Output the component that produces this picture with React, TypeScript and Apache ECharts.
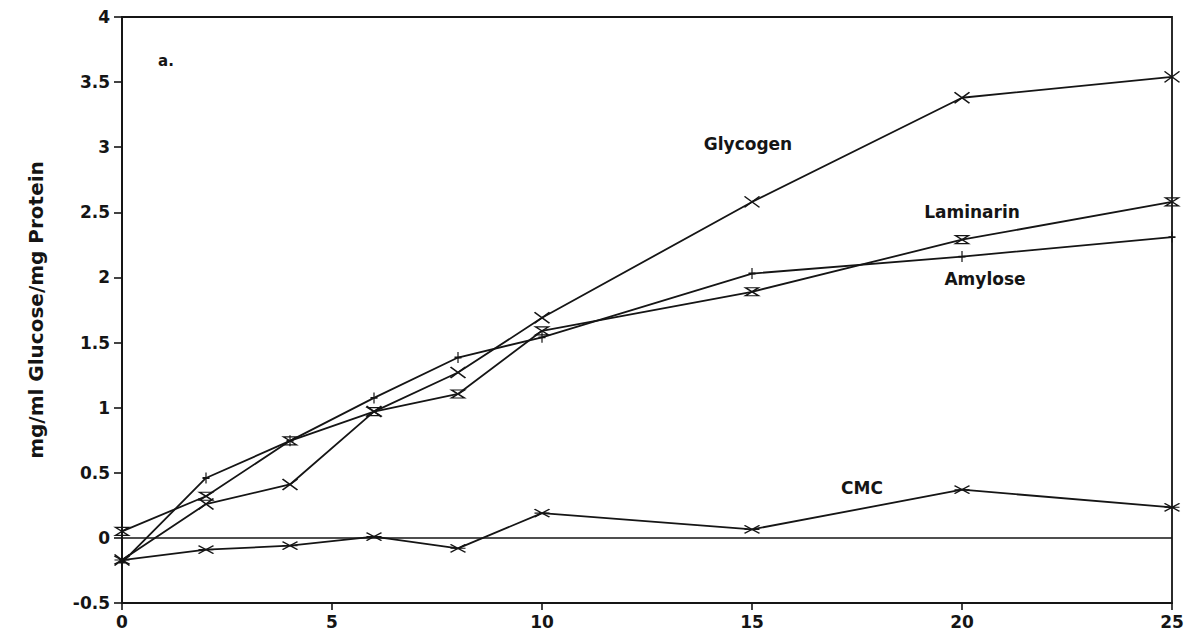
import React, { useEffect, useRef } from "react";
import * as echarts from "echarts";

const timePoints = [0, 2, 4, 6, 8, 10, 15, 20, 25];
const glycogen = [-0.17, 0.26, 0.41, 0.97, 1.27, 1.69, 2.58, 3.38, 3.54];
const laminarin = [0.05, 0.32, 0.745, 0.97, 1.105, 1.59, 1.89, 2.29, 2.58];
const amylose = [-0.19, 0.46, 0.745, 1.075, 1.385, 1.54, 2.03, 2.16, 2.31];
const cmc = [-0.17, -0.09, -0.06, 0.01, -0.08, 0.19, 0.065, 0.37, 0.235];

const seriesNames = ["Glycogen", "Laminarin", "Amylose", "CMC"];
const yAxisTitle = "mg/ml Glucose/mg Protein";
const panelLabel = "a.";

const INK = "#151515";
const FONT = "'DejaVu Sans', 'Liberation Sans', Arial, sans-serif";

const symbols = {
  Glycogen: { path: "path://M0,0L16,11M16,0L0,11", size: [15, 11] },
  Laminarin: { path: "path://M0,0L12,0L0,8L12,8Z", size: [13, 8] },
  Amylose: { path: "path://M5,0L5,12M1,6L9,6", size: [7, 11] },
  CMC: { path: "path://M0,0L16,9M16,0L0,9M0,4.5L16,4.5", size: [15, 8] },
};

function pairs(ys: number[]) {
  return timePoints.map((x, i) => [x, ys[i]]);
}

export default function App() {
  const ref = useRef<HTMLDivElement>(null);

  useEffect(() => {
    if (!ref.current) return;
    const chart = echarts.init(ref.current, undefined, { renderer: "svg" });
    const values = [glycogen, laminarin, amylose, cmc];

    const series: any[] = seriesNames.map((name, i) => {
      const sym = (symbols as any)[name];
      const s: any = {
        name,
        type: "line",
        data: pairs(values[i]),
        symbol: sym.path,
        symbolSize: sym.size,
        showAllSymbol: true,
        clip: false,
        lineStyle: { color: INK, width: 1.8 },
        itemStyle: { color: "rgba(0,0,0,0)", borderColor: INK, borderWidth: 1.5 },
        emphasis: { disabled: true },
        z: 3,
      };
      if (i === 0) {
        s.markLine = {
          silent: true,
          symbol: "none",
          label: { show: false },
          lineStyle: { color: INK, width: 1.5, type: "solid" },
          data: [{ yAxis: 0 }],
        };
      }
      return s;
    });

    const annotations = [
      { text: seriesNames[0], x: 748, y: 144 },
      { text: seriesNames[1], x: 972, y: 212 },
      { text: seriesNames[2], x: 985, y: 279 },
      { text: seriesNames[3], x: 862, y: 488 },
    ];

    chart.setOption({
      animation: false,
      backgroundColor: "#ffffff",
      textStyle: { fontFamily: FONT },
      grid: {
        left: 122,
        right: 20,
        top: 17,
        bottom: 38,
        show: true,
        borderColor: INK,
        borderWidth: 1.8,
        backgroundColor: "transparent",
      },
      xAxis: {
        type: "value",
        min: 0,
        max: 25,
        interval: 5,
        axisLine: { show: true, onZero: false, lineStyle: { color: INK, width: 1.8 } },
        axisTick: { show: true, inside: false, length: 7, lineStyle: { color: INK, width: 1.6 } },
        axisLabel: { color: INK, fontSize: 17, fontWeight: "bold", fontFamily: FONT, margin: 10 },
        splitLine: { show: false },
      },
      yAxis: {
        type: "value",
        min: -0.5,
        max: 4,
        interval: 0.5,
        name: yAxisTitle,
        nameLocation: "middle",
        nameGap: 76,
        nameTextStyle: { color: INK, fontSize: 20, fontWeight: "bold", fontFamily: FONT },
        axisLine: { show: true, onZero: false, lineStyle: { color: INK, width: 1.8 } },
        axisTick: { show: true, inside: false, length: 8, lineStyle: { color: INK, width: 1.6 } },
        axisLabel: { color: INK, fontSize: 17, fontWeight: "bold", fontFamily: FONT, margin: 12 },
        splitLine: { show: false },
      },
      graphic: [
        ...annotations.map((a) => ({
          type: "text",
          x: a.x,
          y: a.y,
          silent: true,
          style: {
            text: a.text,
            fill: INK,
            font: `bold 17px ${FONT}`,
            align: "center",
            verticalAlign: "middle",
          },
        })),
        {
          type: "text",
          x: 166,
          y: 61,
          silent: true,
          style: {
            text: panelLabel,
            fill: INK,
            font: `bold 15px ${FONT}`,
            align: "center",
            verticalAlign: "middle",
          },
        },
      ],
      series,
    });

    return () => chart.dispose();
  }, []);

  return (
    <div
      ref={ref}
      style={{ position: "fixed", left: 0, top: 0, width: 1192, height: 641, background: "#fff" }}
    />
  );
}
